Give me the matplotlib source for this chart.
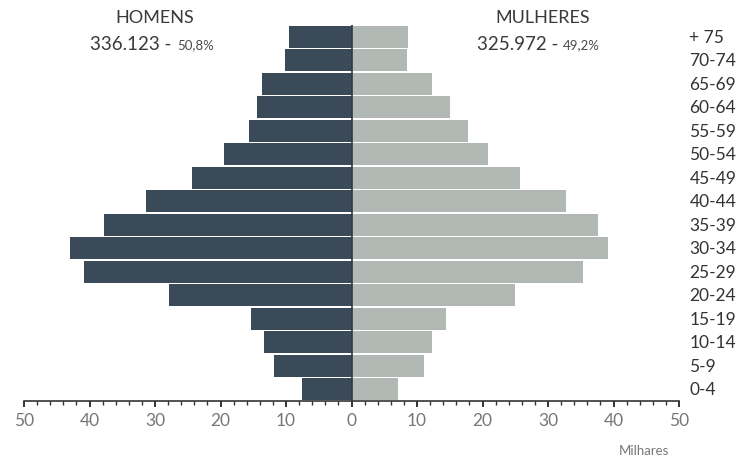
import matplotlib
matplotlib.use("Agg")
import matplotlib.pyplot as plt
import numpy as np

ages = ["0-4", "5-9", "10-14", "15-19", "20-24", "25-29", "30-34", "35-39",
        "40-44", "45-49", "50-54", "55-59", "60-64", "65-69", "70-74", "+ 75"]
homens = [7.5, 11.8, 13.4, 15.4, 27.9, 40.8, 43.0, 37.8,
          31.3, 24.3, 19.4, 15.7, 14.5, 13.6, 10.2, 9.6]
mulheres = [7.1, 11.1, 12.3, 14.5, 24.9, 35.3, 39.2, 37.7,
            32.8, 25.8, 20.9, 17.8, 15.1, 12.3, 8.4, 8.6]
xticks = [-50, -40, -30, -20, -10, 0, 10, 20, 30, 40, 50]
xticklabels = ["50", "40", "30", "20", "10", "0", "10", "20", "30", "40", "50"]

plt.rcParams['font.family'] = ['Lato', 'DejaVu Sans']

fig = plt.figure(figsize=(7.44, 4.6), dpi=100)
ax = fig.add_axes([24/744, 1-402/460, (679-24)/744, (402-26)/460])

y = np.arange(len(ages))
ax.barh(y, -np.array(homens), height=0.92, color="#3a4a58", edgecolor="none")
ax.barh(y, mulheres, height=0.92, color="#b2b9b4", edgecolor="none")
ax.axvline(0, color="#2e3a44", lw=1.2, zorder=3)

ax.set_xlim(-50, 50)
ax.set_ylim(-0.5, len(ages) - 0.5)

for s in ["top", "right", "left"]:
    ax.spines[s].set_visible(False)
ax.spines["bottom"].set_color("#333333")
ax.spines["bottom"].set_linewidth(1.2)

ax.set_xticks(xticks)
ax.set_xticklabels(xticklabels)
ax.set_xticks(np.arange(-50, 51, 2), minor=True)
ax.tick_params(axis="x", which="major", direction="out", length=4, width=1.4,
               color="#333333", labelsize=12.5, labelcolor="#777777", pad=4)
ax.tick_params(axis="x", which="minor", direction="out", length=3, width=1,
               color="#333333")
ax.set_yticks([])

for yi, lab in zip(y, ages):
    ax.text(1.016, (yi + 0.5) / len(ages), lab, transform=ax.transAxes,
            ha="left", va="center", fontsize=12.5, color="#333333")

fig.text(644/744, 1-451/460, "Milhares", ha="center", va="center",
         fontsize=9.5, color="#777777")

fig.text(155/744, 1-18/460, "HOMENS", ha="center", va="center",
         fontsize=13, color="#3a3a3a")
fig.text(543/744, 1-18/460, "MULHERES", ha="center", va="center",
         fontsize=13, color="#3a3a3a")

# totals
fig.text(90/744, 1-45/460, "336.123 -", ha="left", va="center",
         fontsize=13.5, color="#3a3a3a")
fig.text(177/744, 1-45.5/460, "50,8%", ha="left", va="center",
         fontsize=9.5, color="#4a4a4a")
fig.text(477/744, 1-45/460, "325.972 -", ha="left", va="center",
         fontsize=13.5, color="#3a3a3a")
fig.text(563/744, 1-45.5/460, "49,2%", ha="left", va="center",
         fontsize=9.5, color="#4a4a4a")

fig.savefig("out.png", dpi=100)
